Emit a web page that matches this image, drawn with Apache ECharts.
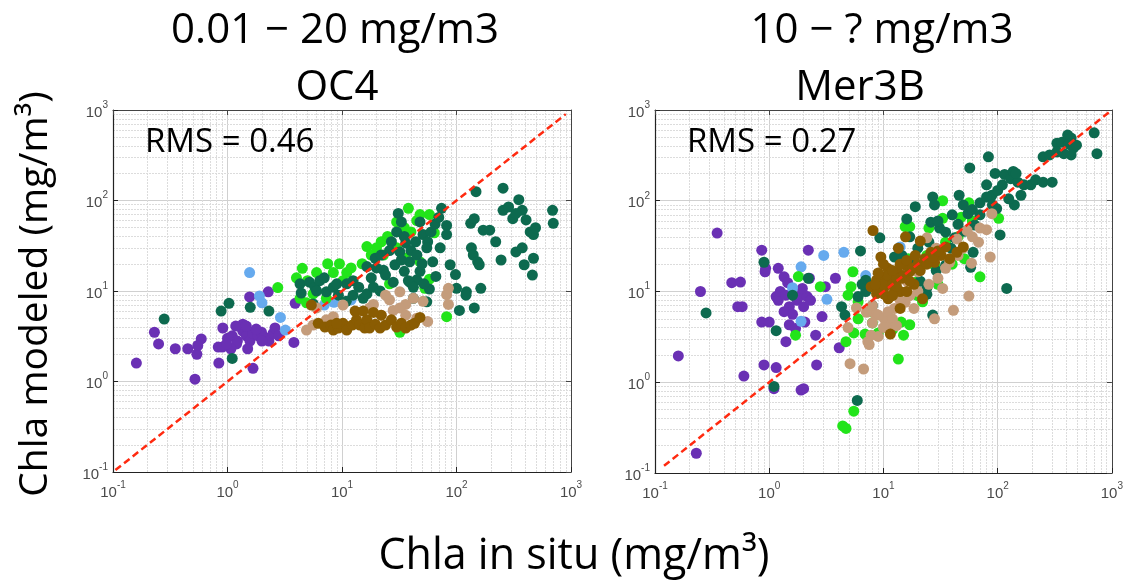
<!DOCTYPE html>
<html><head><meta charset="utf-8">
<script src="https://cdn.jsdelivr.net/npm/echarts@6/dist/echarts.min.js"></script>
<style>html,body{margin:0;padding:0;background:#fff}#c{width:1126px;height:582px}</style>
</head><body><div id="c"></div>
<script>
// ---- tick labels / titles ----
const decades = [0.1, 1, 10, 100, 1000];
const minorGrid = [0.2,0.3,0.4,0.5,0.6,0.7,0.8,0.9,2,3,4,5,6,7,8,9,20,30,40,50,60,70,80,90,200,300,400,500,600,700,800,900];
const panelTitles = ["0.01 − 20 mg/m3", "10 − ? mg/m3"];
const panelNames = ["OC4", "Mer3B"];
const rmsLabels = ["RMS = 0.46", "RMS = 0.27"];
const groupNames = ["purple","lightblue","brightgreen","darkgreen","tan","brown"];

// ---- OC4 panel (x = in situ, y = modeled) ----
const oc4Purple = [[0.16,1.6],[0.23,3.5],[0.25,2.6],[0.35,2.3],[0.45,2.3],[0.52,1.06],[0.54,2.0],[0.59,2.95],[0.55,2.5],[0.84,1.6],[0.83,2.4],[0.91,3.9],[1.0,3.0],[1.1,3.2],[1.22,2.8],[1.36,3.6],[1.46,3.2],[1.57,2.8],[1.67,3.4],[1.85,3.2],[1.98,3.5],[2.1,3.1],[2.3,2.8],[2.5,3.4],[2.6,3.9],[1.36,4.3],[1.2,2.6],[1.07,2.3],[1.67,1.4],[1.56,8.6],[2.27,9.8],[3.8,2.7],[3.9,7.3],[2.8,3.2],[0.9,2.4],[0.98,2.6],[1.5,2.3],[1.78,3.8],[2.0,2.8],[1.18,4.1],[1.46,4.1]];
const oc4LightBlue = [[1.56,16],[1.9,8.8],[2.0,7.4],[2.9,5.1],[3.2,3.7],[7.0,7.0],[8.5,7.5],[12,8]];
const oc4BrightGreen = [[2.75,10.9],[4.5,17.8],[4.0,14],[4.3,8.3],[4.9,7.4],[5.6,9.3],[7.5,20],[9.5,20],[8.4,16],[11,16],[10.2,13],[16.5,31],[18,25],[22,35],[23,25],[38,82],[48,70],[58,70],[40,45],[36,23],[48,21],[58,13.5],[53,10.7],[82,5.2],[26,12],[32,3.5],[7.3,8.3],[64,44],[30,58],[20,30],[25,40],[30,30],[35,50],[45,60],[15,20],[12,18],[6,16],[5,13]];
const oc4DarkGreen = [[0.28,4.9],[1.03,7.3],[0.88,6.0],[1.58,6.6],[2.3,6.0],[1.1,1.8],[4.3,12],[4.4,9.5],[5.2,12.5],[5.8,11],[6.4,13],[7.3,9.8],[8.4,11],[9.3,9.0],[10.9,7.7],[12.5,9],[15.3,8.3],[16.5,9.3],[18.8,11],[21.5,10],[16.5,18.6],[19.5,23],[23,17],[27,35],[31,72],[33,58],[29,19.5],[32,27],[35,16.5],[39,21],[45,13.3],[48,58],[51,42],[56,35],[62,21],[66,14.5],[72,30],[74,82],[82,53],[82,42],[88,19.5],[98,15.2],[100,10.7],[106,6.1],[122,9.8],[133,56],[143,63],[148,125],[135,30],[140,25],[153,21],[158,19.5],[163,10.7],[143,6.5],[121,9],[171,47],[195,47],[220,35],[245,22],[255,137],[255,78],[285,85],[310,63],[350,102],[375,78],[405,61],[440,45],[470,42],[490,50],[330,27],[375,30],[460,15],[470,23],[390,19.5],[690,78],[700,56],[330,72],[24,15],[28,12.5],[39,12.5],[48,16.5],[58,10.5],[42,8.3],[55,7.6],[36,34],[44,35],[22,25],[12.5,13],[5.6,7.2],[30,45],[35,40],[40,28],[45,25],[50,20],[55,30],[60,45],[65,55],[70,65],[38,13],[42,11],[52,12],[33,22],[26,28],[20,18],[18,14],[14,11],[11,12],[7,14],[6,10],[9,12]];
const oc4Tan = [[4.9,3.7],[5.6,4.2],[7.3,4.8],[8.4,5.2],[10.2,7],[13.4,5.8],[18.8,7.1],[24,9.0],[26,8],[32,9.8],[36,7.1],[42,8.3],[51,7.7],[56,4.6],[82,9.1],[85,7.1],[85,10.7],[28,6.1],[32,6.5],[36,5.4],[45,5.0],[17.4,6.5],[22,5.4],[6.0,6.5]];
const oc4Brown = [[6.2,4.4],[7.1,4.0],[8.0,4.2],[8.4,3.7],[9.3,3.9],[10.2,4.4],[11,3.7],[12.3,4.2],[13.4,4.8],[14.3,4.2],[15.8,3.9],[16.5,4.8],[17.4,3.9],[19.5,4.3],[21.5,3.9],[22,5.4],[24,4.2],[27,4.8],[30,4.0],[33,4.4],[36,3.9],[40,4.2],[43,4.4],[48,5.1],[13,6],[15.3,6],[18.8,5.8],[9,4.4],[5.4,7.0]];
const oc4OneToOne = [[0.105,0.105],[900,900]];

// ---- Mer3B panel ----
const merPurple = [[0.16,1.95],[0.23,0.165],[0.25,10],[0.35,44],[0.47,12.5],[0.56,12.7],[0.53,6.8],[0.58,6.8],[0.6,1.17],[0.86,28.5],[0.92,16.5],[0.93,18],[0.86,4.6],[1.0,4.6],[0.9,1.55],[1.15,1.45],[1.1,0.85],[1.9,0.82],[2.0,0.85],[1.2,18],[1.15,8.8],[1.2,8.0],[1.25,10],[1.4,9.1],[1.5,6.8],[1.35,6.0],[1.6,5.6],[1.75,8.0],[1.9,9.1],[2.0,6.8],[2.15,8.8],[2.3,8.0],[2.05,4.6],[1.5,4.3],[1.4,2.8],[1.35,14.5],[1.45,12.5],[2.2,28.5],[2.25,14],[2.55,3.3],[2.6,1.55],[2.9,5.3],[3.1,11.3],[3.8,14],[4.1,2.4],[1.7,3.9],[1.95,10.8]];
const merLightBlue = [[1.9,18.7],[1.6,11],[1.9,4.7],[3.0,25],[3.2,8.2],[4.5,27],[14,31],[7,15]];
const merBrightGreen = [[1.8,14.6],[2.8,11.3],[1.7,3.3],[4.7,2.8],[5.5,0.48],[4.4,0.33],[4.7,0.31],[5.4,16.5],[5.2,11.3],[4.9,9.1],[6.0,7.7],[6.9,3.4],[11,3.9],[13.5,1.8],[15,3.3],[14.3,4.6],[17,4.3],[15.5,52],[17,52],[16.5,23],[24,25],[28,19.5],[33,64],[33,100],[56,95],[102,64],[70,14.5],[51,23],[22,7.7],[20,13],[7.7,6.0],[6,5],[8,4.5],[12,3.8],[9,3.5],[5.5,3.5],[20,9],[30,12],[40,20],[45,40],[60,60],[35,35],[25,50],[48,66]];
const merDarkGreen = [[0.28,5.8],[0.9,21],[1.1,0.9],[1.15,3.7],[1.6,9.1],[2.2,14],[5.9,0.63],[4.3,6.8],[4.6,5.5],[6.0,8.8],[6.3,28],[7.0,13.3],[9.3,39],[12.5,24],[14.5,25],[17,40],[19,86],[26,58],[27,110],[28,90],[46,115],[57,230],[55,72],[63,54],[70,95],[80,150],[89,115],[83,305],[95,200],[98,82],[105,42],[120,10.8],[115,195],[130,175],[137,210],[150,160],[145,200],[160,115],[140,90],[125,105],[170,150],[195,150],[215,170],[250,160],[300,160],[250,305],[330,430],[365,440],[410,530],[440,490],[420,420],[460,380],[440,320],[380,330],[330,345],[285,320],[700,560],[740,330],[490,410],[21,13],[24,11],[29,17],[35,19.5],[39,30],[42,39],[31,50],[58,18.5],[51,46],[61,27],[24,9.3],[27,5.5],[17,21],[16,63],[7,10],[8,7],[6.5,12],[20,30],[25,35],[35,45],[45,55],[60,80],[70,70],[80,110],[90,90],[100,130],[110,150],[40,70],[30,60],[50,90]];
const merTan = [[4.9,4.0],[5.1,1.6],[6.7,1.4],[7.3,2.8],[7.8,3.3],[8.4,5.7],[7.1,5.9],[10.2,5.0],[11.7,4.3],[12.5,6.5],[15.5,7.6],[18.5,6.5],[28,5.0],[33,10.8],[41,6.2],[56,8.9],[86,24],[80,48],[89,72],[54,47],[44,38],[24,39],[29,30],[59,20.5],[20,16.5],[16,13],[11.7,11.3],[5.8,6.6],[38,21],[68,35],[8,7],[9,5.5],[10,4],[11,6],[12,5],[13,4.2],[9,3.2],[8,4.5],[14,8],[17,9],[20,10],[25,12],[30,14],[35,18],[45,25],[50,30],[60,40],[70,50],[7.5,2.6]];
const merBrown = [[8.1,47],[9.5,24],[11.5,3.4],[14,6.5],[21,36],[15.6,40],[13.5,30],[7.8,11.3],[8.7,13.3],[9.5,14.8],[10.2,11.3],[10.9,18],[11.7,13.3],[12.5,10],[13.3,16.6],[14.5,14],[15.6,19.5],[17,16.6],[18.5,12],[20,20],[22,8.3],[23,23],[26,27],[28,21],[32,25],[35,31],[38,23],[44,27],[50,31],[11,8.3],[10.2,9.3],[8.7,9.5],[14,10],[16,10],[9,10],[10,12],[11,15],[12,12],[13,14],[9,16],[10,20],[12,17],[14,20],[15,15],[16,22],[18,18],[19,25],[21,17],[24,20],[27,24],[30,28],[8.5,12],[12,9],[13,11.5],[17,13]];
const merOneToOne = [[0.12,0.12],[950,950]];

const colors = {purple:'#6a30b4', lightblue:'#66aaee', brightgreen:'#22e41a', darkgreen:'#0d6a4f', tan:'#c49c7b', brown:'#8a5c02'};

const panels = [
  {groups:[oc4Purple,oc4LightBlue,oc4BrightGreen,oc4DarkGreen,oc4Tan,oc4Brown], line:oc4OneToOne},
  {groups:[merPurple,merLightBlue,merBrightGreen,merDarkGreen,merTan,merBrown], line:merOneToOne}
];

const grids = [
  {left:113, top:110, width:458, height:362},
  {left:655, top:110, width:462, height:363}
];

function expLabel(v){
  const e = Math.round(Math.log10(v));
  return '{b|10}{s|' + e + '}';
}
const labelRich = {
  b:{fontSize:15, color:'#4a4a4a', fontFamily:'Liberation Sans', verticalAlign:'bottom', lineHeight:20},
  s:{fontSize:10, color:'#4a4a4a', fontFamily:'Liberation Sans', verticalAlign:'top', lineHeight:20}
};

const xAxes=[], yAxes=[], series=[];
grids.forEach((g,i)=>{
  const common = {type:'log', logBase:10, min:0.1, max:1000, gridIndex:i};
  xAxes.push(Object.assign({}, common, {
    position:'bottom',
    axisLine:{show:true, lineStyle:{color:'#222', width:1.2}},
    axisTick:{show:true, inside:true, length:5, lineStyle:{color:'#222'}},
    axisLabel:{formatter:expLabel, rich:labelRich, margin:8},
    splitLine:{show:true, lineStyle:{color:'#d0d0d0', width:1}}
  }));
  xAxes.push(Object.assign({}, common, {
    position:'top',
    axisLine:{show:true, lineStyle:{color:'#444', width:1}},
    axisTick:{show:true, inside:true, length:5, lineStyle:{color:'#444'}},
    axisLabel:{show:false}, splitLine:{show:false}
  }));
  yAxes.push(Object.assign({}, common, {
    position:'left',
    axisLine:{show:true, lineStyle:{color:'#222', width:1.2}},
    axisTick:{show:true, inside:true, length:5, lineStyle:{color:'#222'}},
    axisLabel:{formatter:expLabel, rich:labelRich, margin:5},
    splitLine:{show:true, lineStyle:{color:'#d0d0d0', width:1}}
  }));
  yAxes.push(Object.assign({}, common, {
    position:'right',
    axisLine:{show:true, lineStyle:{color:'#444', width:1}},
    axisTick:{show:true, inside:true, length:5, lineStyle:{color:'#444'}},
    axisLabel:{show:false}, splitLine:{show:false}
  }));
  const xi = i*2, yi = i*2;
  const ml = [];
  minorGrid.forEach(v=>{ ml.push({xAxis:v}); ml.push({yAxis:v}); });
  series.push({type:'scatter', xAxisIndex:xi, yAxisIndex:yi, data:[], silent:true, z:0,
    markLine:{silent:true, symbol:'none', label:{show:false}, animation:false, z:0,
      lineStyle:{color:'#dcdcdc', type:[2,1], width:1}, data:ml}});
  panels[i].groups.forEach((d,k)=>{
    series.push({type:'scatter', name:groupNames[k], xAxisIndex:xi, yAxisIndex:yi, data:d, z:3,
      symbolSize:11, itemStyle:{color:colors[groupNames[k]], opacity:1}, animation:false});
  });
  series.push({type:'line', xAxisIndex:xi, yAxisIndex:yi, data:panels[i].line, symbol:'none',
    lineStyle:{color:'#ff2a10', width:2.5, type:[7,4]}, animation:false, z:5});
});

const titleFont = '"Open Sans", Lato, sans-serif';
const graphic = [];
const titleX = [335, 882], nameX = [337, 860];
[0,1].forEach(i=>{
  graphic.push({type:'text', z:100, x:titleX[i], y:31, style:{text:panelTitles[i], fill:'#000', font:'42px '+titleFont, textAlign:'center', textVerticalAlign:'middle'}});
  graphic.push({type:'text', z:100, x:nameX[i], y:88, style:{text:panelNames[i], fill:'#000', font:'42px '+titleFont, textAlign:'center', textVerticalAlign:'middle'}});
  graphic.push({type:'text', z:100, x:grids[i].left+32, y:143, style:{text:rmsLabels[i], fill:'#000', font:'33px '+titleFont, textAlign:'left', textVerticalAlign:'middle'}});
});
graphic.push({type:'text', z:100, x:36, y:294, rotation:Math.PI/2, style:{text:'Chla modeled (mg/m³)', fill:'#000', font:'39px '+titleFont, textAlign:'center', textVerticalAlign:'middle'}});
graphic.push({type:'text', z:100, x:574, y:557, style:{text:'Chla in situ (mg/m³)', fill:'#000', font:'43px '+titleFont, textAlign:'center', textVerticalAlign:'middle'}});

const chart = echarts.init(document.getElementById('c'), null, {renderer:'canvas'});
chart.setOption({
  animation:false,
  backgroundColor:'#fff',
  grid:grids,
  xAxis:xAxes, yAxis:yAxes,
  series:series,
  graphic:graphic
});
</script></body></html>
